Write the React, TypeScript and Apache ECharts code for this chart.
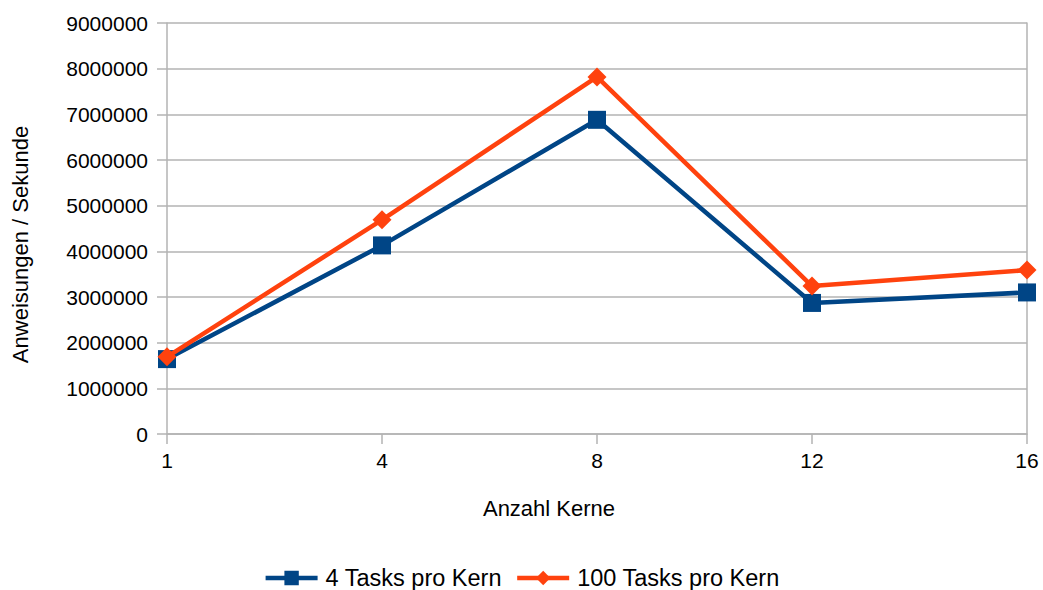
import React, { useEffect, useRef } from "react";
import * as echarts from "echarts";

const cores = ["1", "4", "8", "12", "16"];
const tasks4 = [1640000, 4130000, 6880000, 2870000, 3100000];
const tasks100 = [1690000, 4690000, 7820000, 3240000, 3590000];
const seriesNames = ["4 Tasks pro Kern", "100 Tasks pro Kern"];

const FONT = "Liberation Sans, Arial, sans-serif";
const GRID_COLOR = "#b3b3b3";

export default function App() {
  const ref = useRef<HTMLDivElement>(null);

  useEffect(() => {
    if (!ref.current) return;
    const chart = echarts.init(ref.current, null, { renderer: "svg" });
    chart.setOption({
      animation: false,
      backgroundColor: "#ffffff",
      textStyle: { fontFamily: FONT },
      grid: { left: 167, right: 16, top: 23, bottom: 156 },
      legend: {
        top: 561,
        left: "center",
        itemWidth: 52,
        itemHeight: 18,
        itemGap: 13,
        lineStyle: { width: 4.5 },
        textStyle: { fontSize: 23.5, color: "#000", fontFamily: FONT, padding: [0, 0, 0, 3] },
        data: seriesNames,
      },
      xAxis: {
        type: "category",
        data: cores,
        boundaryGap: false,
        name: "Anzahl Kerne",
        nameLocation: "middle",
        nameGap: 63,
        nameTextStyle: { fontSize: 22, color: "#000", fontFamily: FONT, padding: [0, 96, 0, 0] },
        axisLine: { show: true, lineStyle: { color: GRID_COLOR, width: 1.5 } },
        axisTick: { show: true, length: 10, lineStyle: { color: GRID_COLOR, width: 1.5 } },
        axisLabel: { fontSize: 21, color: "#000", margin: 16, fontFamily: FONT },
        splitLine: { show: false },
      },
      yAxis: [
        {
          type: "value",
          min: 0,
          max: 9000000,
          interval: 1000000,
          name: "Anweisungen / Sekunde",
          nameLocation: "middle",
          nameGap: 136,
          nameTextStyle: { fontSize: 22, color: "#000", fontFamily: FONT, padding: [0, 32, 0, 0] },
          axisLine: { show: true, lineStyle: { color: GRID_COLOR, width: 1.5 } },
          axisTick: { show: true, length: 10, lineStyle: { color: GRID_COLOR, width: 1.5 } },
          axisLabel: {
            fontSize: 21,
            color: "#000",
            margin: 19,
            fontFamily: FONT,
            formatter: (v: number) => String(v),
          },
          splitLine: { show: true, lineStyle: { color: GRID_COLOR, width: 1.5 } },
        },
        {
          type: "value",
          position: "right",
          min: 0,
          max: 9000000,
          interval: 1000000,
          axisLine: { show: true, lineStyle: { color: GRID_COLOR, width: 1.5 } },
          axisTick: { show: false },
          axisLabel: { show: false },
          splitLine: { show: false },
        },
      ],
      series: [
        {
          name: seriesNames[0],
          type: "line",
          data: tasks4,
          color: "#004586",
          lineStyle: { width: 4.5, color: "#004586" },
          symbol: "rect",
          symbolSize: 18,
          itemStyle: { color: "#004586" },
          z: 2,
        },
        {
          name: seriesNames[1],
          type: "line",
          data: tasks100,
          color: "#ff420e",
          lineStyle: { width: 4.5, color: "#ff420e" },
          symbol: "diamond",
          symbolSize: 19,
          itemStyle: { color: "#ff420e" },
          z: 3,
        },
      ],
    });
    return () => chart.dispose();
  }, []);

  return (
    <div
      ref={ref}
      style={{ position: "fixed", left: 0, top: 0, width: 1043, height: 590 }}
    />
  );
}
